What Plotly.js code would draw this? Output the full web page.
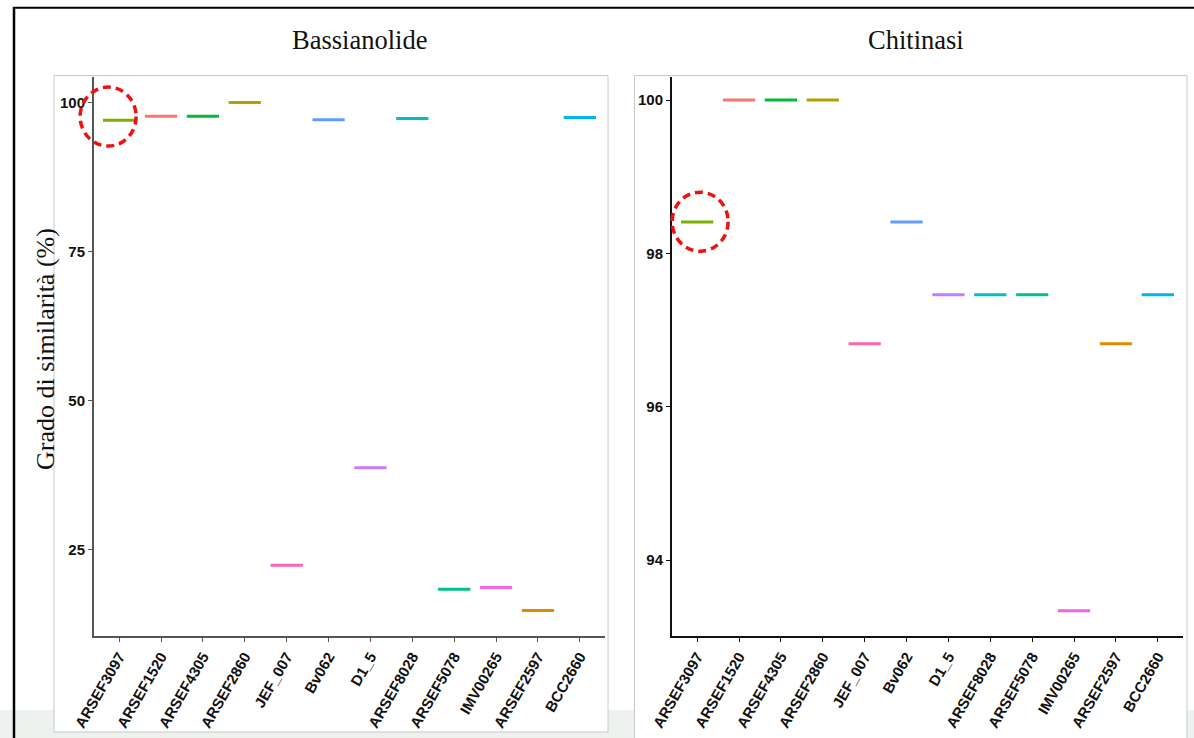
<!DOCTYPE html>
<html>
<head>
<meta charset="utf-8">
<script src="https://cdn.plot.ly/plotly-3.0.1.min.js"></script>
<style>
  html, body { margin: 0; padding: 0; background: #ffffff; }
  #chart { width: 1194px; height: 738px; }
</style>
</head>
<body>
<div id="chart"></div>
<script>
// ---- data ----
const categories = ["ARSEF3097", "ARSEF1520", "ARSEF4305", "ARSEF2860", "JEF_007", "Bv062",
                    "D1_5", "ARSEF8028", "ARSEF5078", "IMV00265", "ARSEF2597", "BCC2660"];
const bassianolide = [97.0, 97.7, 97.7, 100.0, 22.3, 97.1, 38.7, 97.3, 18.3, 18.6, 14.7, 97.5];
const chitinasi    = [98.41, 100.0, 100.0, 100.0, 96.82, 98.41, 97.46, 97.46, 97.46, 93.34, 96.82, 97.46];
const colors = ["#7CAE00", "#F8766D", "#00BA38", "#B79F00", "#FF64B0", "#619CFF",
                "#C77CFF", "#00BFC4", "#00C08B", "#F564E3", "#DE8C00", "#00B4F0"];
const panelTitles = ["Bassianolide", "Chitinasi"];
const yTitle = "Grado di similarità (%)";
const bassTicks = [25, 50, 75, 100];
const chitTicks = [94, 96, 98, 100];

// ---- geometry helpers (pixels -> paper) ----
const W = 1194, H = 738;
const px = v => v / W;
const py = v => (H - v) / H;
const HALF = 0.385;

const traces = [];
function addPanel(vals, xa, ya) {
  categories.forEach((c, i) => {
    traces.push({
      type: "scatter", mode: "lines",
      x: [i - HALF, i + HALF], y: [vals[i], vals[i]],
      xaxis: xa, yaxis: ya,
      line: { color: colors[i], width: 3 },
      showlegend: false, hoverinfo: "skip", name: c
    });
  });
}
addPanel(bassianolide, "x", "y");
addPanel(chitinasi, "x2", "y2");

const idx = categories.map((c, i) => i);
const tickFont = { family: "Liberation Sans, Arial, sans-serif", size: 15, color: "#111111", weight: 700 };

function xAxis(domain, anchor, lc) {
  return {
    domain: domain, anchor: anchor, range: [-0.6, 11.6],
    tickmode: "array", tickvals: idx, ticktext: categories, tickangle: -60,
    showline: true, linecolor: lc, linewidth: 2,
    ticks: "outside", ticklen: 4, tickcolor: lc, tickwidth: 1,
    tickfont: tickFont, showgrid: false, zeroline: false, fixedrange: true
  };
}
function yAxis(domain, anchor, range, tv, lc) {
  return {
    domain: domain, anchor: anchor, range: range,
    tickmode: "array", tickvals: tv,
    showline: true, linecolor: lc, linewidth: 2,
    ticks: "outside", ticklen: 4, tickcolor: lc, tickwidth: 1,
    tickfont: tickFont, showgrid: false, zeroline: false, fixedrange: true
  };
}

const yDom = [py(636), py(77)];
const xDomL = [px(94), px(605)], xDomR = [px(672), px(1183)];
const xRange = [-0.6, 11.6];
const yRangeL = [10.44, 104.28], yRangeR = [93.01, 100.30];

// data -> paper mapping (for the highlight circles, so they are not clipped by the plot area)
const toPaperX = (v, dom) => dom[0] + (v - xRange[0]) / (xRange[1] - xRange[0]) * (dom[1] - dom[0]);
const toPaperY = (v, rng) => yDom[0] + (v - rng[0]) / (rng[1] - rng[0]) * (yDom[1] - yDom[0]);

const titleFont = { family: "Liberation Serif, Times New Roman, serif", size: 26.5, color: "#111111" };

const layout = {
  width: W, height: H,
  margin: { l: 0, r: 0, t: 0, b: 0 },
  paper_bgcolor: "rgba(0,0,0,0)", plot_bgcolor: "rgba(0,0,0,0)",
  showlegend: false,
  xaxis: xAxis(xDomL, "y", "#555555"),
  yaxis: yAxis(yDom, "x", yRangeL, bassTicks, "#555555"),
  xaxis2: xAxis(xDomR, "y2", "#111111"),
  yaxis2: yAxis(yDom, "x2", yRangeR, chitTicks, "#111111"),
  annotations: [
    { text: panelTitles[0], xref: "paper", yref: "paper", x: px(360), y: py(40),
      showarrow: false, xanchor: "center", yanchor: "middle", font: titleFont },
    { text: panelTitles[1], xref: "paper", yref: "paper", x: px(916), y: py(40),
      showarrow: false, xanchor: "center", yanchor: "middle", font: titleFont },
    { text: yTitle, xref: "paper", yref: "paper", x: px(45), y: py(349),
      showarrow: false, textangle: -90, xanchor: "center", yanchor: "middle",
      font: { family: "Liberation Serif, Times New Roman, serif", size: 26, color: "#111111" } }
  ],
  shapes: [
    // light grey strip at the bottom of the screenshot
    { type: "rect", xref: "paper", yref: "paper", x0: 0, x1: 1, y0: 0, y1: py(710),
      fillcolor: "#eef2ef", line: { width: 0 }, layer: "below" },
    // panel boxes
    { type: "rect", xref: "paper", yref: "paper", x0: px(54), x1: px(608), y0: py(732), y1: py(75.5),
      fillcolor: "#ffffff", line: { color: "#c8c8c8", width: 1 }, layer: "below" },
    { type: "rect", xref: "paper", yref: "paper", x0: px(634.5), x1: px(1187), y0: py(760), y1: py(75.5),
      fillcolor: "#ffffff", line: { color: "#c8c8c8", width: 1 }, layer: "below" },
    // outer black frame (left and top edges)
    { type: "line", xref: "paper", yref: "paper", x0: px(14), x1: px(14), y0: py(745), y1: py(7),
      line: { color: "#000000", width: 2.5 }, layer: "above" },
    { type: "line", xref: "paper", yref: "paper", x0: px(13), x1: px(1200), y0: py(7.8), y1: py(7.8),
      line: { color: "#000000", width: 2 }, layer: "above" },
    // red dashed highlight circles
    { type: "circle", xref: "paper", yref: "paper", xsizemode: "pixel", ysizemode: "pixel",
      xanchor: toPaperX(0, xDomL), yanchor: toPaperY(bassianolide[0], yRangeL),
      x0: -39, x1: 17, y0: -25.7, y1: 33.3,
      line: { color: "#f01010", width: 3.5, dash: "8px,5px" }, layer: "above" },
    { type: "circle", xref: "paper", yref: "paper", xsizemode: "pixel", ysizemode: "pixel",
      xanchor: toPaperX(0, xDomR), yanchor: toPaperY(chitinasi[0], yRangeR),
      x0: -25, x1: 31, y0: -29.3, y1: 29.7,
      line: { color: "#f01010", width: 3.5, dash: "8px,5px" }, layer: "above" }
  ]
};

Plotly.newPlot("chart", traces, layout, { displayModeBar: false, staticPlot: true });
</script>
</body>
</html>
